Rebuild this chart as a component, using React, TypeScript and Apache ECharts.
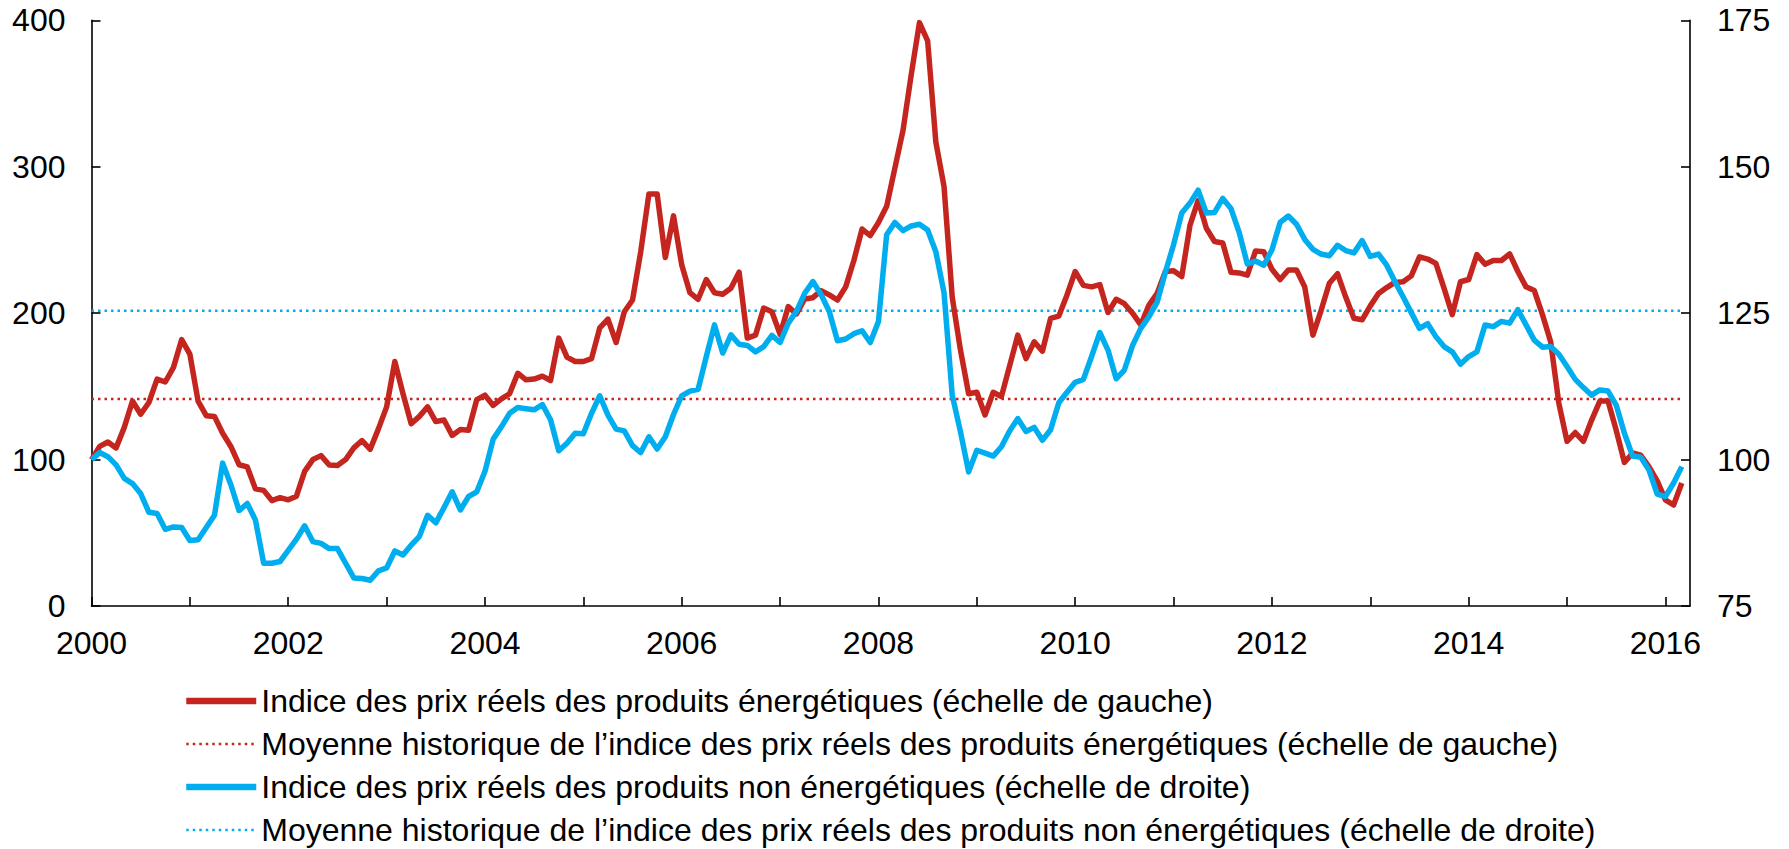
import { useEffect, useRef } from "react";
import * as echarts from "echarts";

const START_YEAR = 2000;

// Indice des prix réels des produits énergétiques (monthly, Jan 2000 = 100), left scale
const energyIndex = [
  100, 109, 112, 108, 122, 140, 131, 139, 155, 153, 163, 182,
  172, 140, 130, 129.5, 118, 109, 96.5, 95, 80, 79, 72, 74,
  72.5, 75, 92, 100, 102.7, 96.3, 96, 100, 108, 113, 107, 121,
  136, 167, 145, 124.5, 129.5, 136, 126, 127, 116.5, 120.5, 120, 141,
  144, 137, 141.5, 145, 159, 154.5, 155, 157, 154, 183, 170, 167,
  167, 169, 190, 196, 180, 201, 209, 242, 281.5, 281.5, 238, 266.5,
  233, 214, 209.5, 223, 214, 213, 217, 228, 183, 185, 203.5, 201,
  185.5, 204.5, 199.5, 209.7, 210.6, 215.4, 212.5, 209, 218, 236, 257.5, 253,
  262, 273, 299, 325, 363, 398.5, 386, 317, 286.5, 211, 175, 145,
  146, 130.5, 146, 143, 164, 185, 169, 180.5, 174, 196.5, 198, 212.5,
  228.5, 219, 218, 219.5, 200.5, 209.5, 206.5, 200, 192, 205.5, 213.5, 228.5,
  229, 225, 260, 277, 258, 249, 248, 228, 227.5, 226, 242.5, 242,
  230, 223, 229.5, 229.5, 218, 185, 202, 220.5, 227, 211, 196.5, 195.5,
  205, 213.5, 217.5, 221, 221.5, 225.5, 238.5, 237, 234, 217, 199, 221.5,
  223, 240, 233.5, 236, 236, 240.5, 228.5, 218, 215.5, 199, 180.5, 138.5,
  112.5, 118.5, 112.5, 127, 140, 140, 120, 98, 104.5, 103, 95, 85.5,
  72.5, 69, 84,
];

// Indice des prix réels des produits non énergétiques (monthly, Jan 2000 = 100), right scale
const nonEnergyIndex = [
  100, 101.2, 100.5, 99.1, 96.8, 95.9, 94.2, 91, 90.8, 88.1, 88.5, 88.4,
  86.2, 86.3, 88.4, 90.5, 99.4, 95.7, 91.3, 92.5, 89.7, 82.3, 82.3, 82.6,
  84.5, 86.4, 88.7, 86, 85.7, 84.8, 84.8, 82.3, 79.8, 79.7, 79.4, 81,
  81.5, 84.4, 83.7, 85.4, 86.9, 90.5, 89.2, 91.8, 94.5, 91.4, 93.7, 94.5,
  98, 103.5, 105.6, 107.9, 108.9, 108.7, 108.5, 109.4, 106.8, 101.5, 102.8, 104.5,
  104.4, 107.9, 110.9, 107.6, 105.2, 104.9, 102.4, 101.2, 103.9, 101.8, 103.9, 107.7,
  110.9, 111.7, 112, 117.6, 123, 118.2, 121.3, 119.7, 119.5, 118.4, 119.3, 121.2,
  120, 123.3, 125.3, 128.4, 130.4, 128.2, 125.3, 120.3, 120.6, 121.5, 122, 120,
  123.6, 138.4, 140.5, 139.1, 139.9, 140.2, 139.2, 135.5, 128.5, 111, 104.8, 97.9,
  101.6, 101.1, 100.6, 102.2, 104.9, 107, 104.8, 105.5, 103.3, 105.1, 109.7, 111.5,
  113.2, 113.7, 117.6, 121.7, 118.7, 113.8, 115.3, 119.5, 122.4, 124.4, 126.9, 132,
  136.7, 142.1, 143.8, 146, 142.1, 142.2, 144.6, 142.9, 138.8, 133.4, 133.9, 133.2,
  135.8, 140.5, 141.6, 140.2, 137.6, 135.9, 135.1, 134.8, 136.6, 135.7, 135.3, 137.4,
  134.7, 135.1, 133.2, 130.4, 127.8, 125.1, 122.4, 123.2, 121, 119.3, 118.4, 116.3,
  117.6, 118.4, 123, 122.7, 123.6, 123.3, 125.6, 123, 120.4, 119.2, 119.3, 118,
  115.9, 113.7, 112.3, 111, 111.9, 111.7, 109.3, 104.5, 100.6, 100.4, 98.2, 94.1,
  93.7, 96, 98.8,
];

const energyMean = 141.4;
const nonEnergyMean = 125.4;

const yearTicks = [2000, 2001, 2002, 2003, 2004, 2005, 2006, 2007, 2008, 2009, 2010, 2011, 2012, 2013, 2014, 2015, 2016];
const yearLabels = [2000, 2002, 2004, 2006, 2008, 2010, 2012, 2014, 2016];

const seriesNames = [
  "Indice des prix réels des produits énergétiques (échelle de gauche)",
  "Moyenne historique de l’indice des prix réels des produits énergétiques (échelle de gauche)",
  "Indice des prix réels des produits non énergétiques (échelle de droite)",
  "Moyenne historique de l’indice des prix réels des produits non énergétiques (échelle de droite)",
];

const RED = "#C4261F";
const BLUE = "#00AEEF";
const FONT = "'Liberation Sans', Arial, sans-serif";
const FS = 32;
const DOT: number[] = [2.5, 4];

export default function App() {
  const ref = useRef<HTMLDivElement>(null);

  useEffect(() => {
    if (!ref.current) return;
    const chart = echarts.init(ref.current, null, { renderer: "svg" });
    const xs = energyIndex.map((_, i) => START_YEAR + i / 12);
    const axisLineStyle = { color: "#000", width: 1.6 };

    chart.setOption({
      animation: false,
      backgroundColor: "#fff",
      textStyle: { fontFamily: FONT },
      grid: { left: 91.5, right: 99, top: 20.4, bottom: 243, containLabel: false },
      xAxis: {
        type: "value",
        min: 2000,
        max: 2016.25,
        interval: 1,
        axisLine: { show: true, onZero: false, lineStyle: axisLineStyle },
        axisTick: { show: true, inside: true, length: 9, lineStyle: axisLineStyle, customValues: yearTicks },
        axisLabel: {
          customValues: yearLabels,
          formatter: (v: number) => String(Math.round(v)),
          fontSize: FS,
          color: "#000",
          fontFamily: FONT,
          margin: 21,
        },
        splitLine: { show: false },
      },
      yAxis: [
        {
          type: "value",
          position: "left",
          min: 0,
          max: 400,
          interval: 100,
          axisLine: { show: true, lineStyle: axisLineStyle },
          axisTick: { show: true, inside: true, length: 9, lineStyle: axisLineStyle },
          axisLabel: { fontSize: FS, color: "#000", fontFamily: FONT, margin: 26 },
          splitLine: { show: false },
        },
        {
          type: "value",
          position: "right",
          min: 75,
          max: 175,
          interval: 25,
          axisLine: { show: true, lineStyle: axisLineStyle },
          axisTick: { show: true, inside: true, length: 9, lineStyle: axisLineStyle },
          axisLabel: { fontSize: FS, color: "#000", fontFamily: FONT, margin: 27 },
          splitLine: { show: false },
        },
      ],
      legend: {
        orient: "vertical",
        left: 183,
        top: 685,
        padding: 0,
        itemWidth: 70,
        itemHeight: 14,
        itemGap: 11,
        selectedMode: false,
        itemStyle: { opacity: 0 },
        textStyle: { fontSize: FS, color: "#000", fontFamily: FONT, lineHeight: 32 },
        data: [
          { name: seriesNames[0], lineStyle: { width: 6.5, color: RED } },
          { name: seriesNames[1], lineStyle: { width: 2.5, color: RED, type: DOT } },
          { name: seriesNames[2], lineStyle: { width: 6.5, color: BLUE } },
          { name: seriesNames[3], lineStyle: { width: 2.5, color: BLUE, type: DOT } },
        ],
      },
      series: [
        {
          name: seriesNames[0],
          type: "line",
          yAxisIndex: 0,
          symbol: "none",
          data: energyIndex.map((v, i) => [xs[i], v]),
          lineStyle: { color: RED, width: 5.5, join: "round" },
          itemStyle: { color: RED },
          z: 3,
        },
        {
          name: seriesNames[1],
          type: "line",
          yAxisIndex: 0,
          symbol: "none",
          data: xs.map((x) => [x, energyMean]),
          lineStyle: { color: RED, width: 2.5, type: DOT },
          itemStyle: { color: RED },
          z: 2,
        },
        {
          name: seriesNames[2],
          type: "line",
          yAxisIndex: 1,
          symbol: "none",
          data: nonEnergyIndex.map((v, i) => [xs[i], v]),
          lineStyle: { color: BLUE, width: 5.5, join: "round" },
          itemStyle: { color: BLUE },
          z: 4,
        },
        {
          name: seriesNames[3],
          type: "line",
          yAxisIndex: 1,
          symbol: "none",
          data: xs.map((x) => [x, nonEnergyMean]),
          lineStyle: { color: BLUE, width: 2.5, type: DOT },
          itemStyle: { color: BLUE },
          z: 2,
        },
      ],
    });

    return () => chart.dispose();
  }, []);

  return (
    <div
      ref={ref}
      style={{ position: "fixed", left: 0, top: 0, width: 1789, height: 849, background: "#fff" }}
    />
  );
}
